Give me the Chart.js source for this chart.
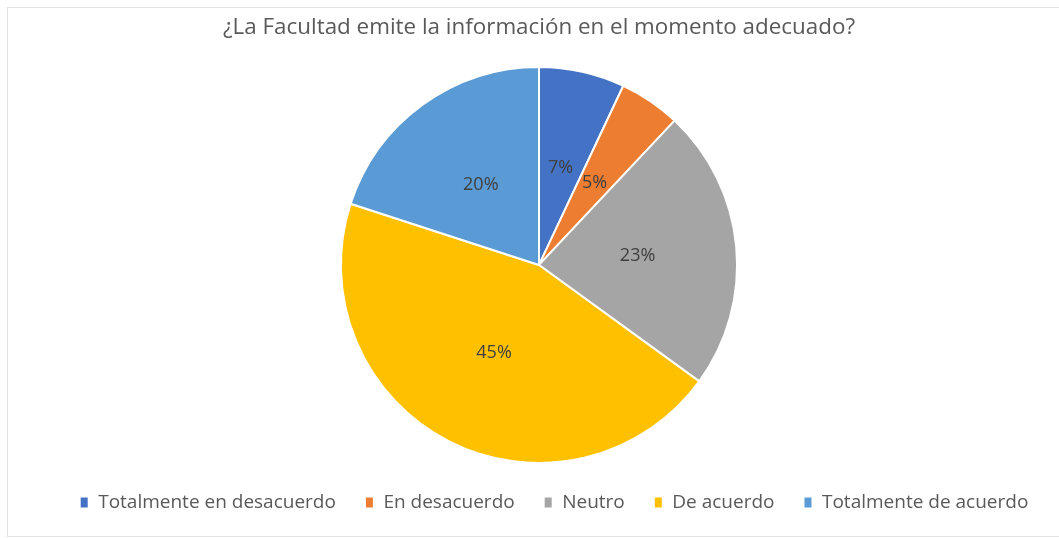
<!DOCTYPE html>
<html>
<head>
<meta charset="utf-8">
<script src="https://cdn.jsdelivr.net/npm/chart.js@4.4.0/dist/chart.umd.min.js"></script>
<style>
  html, body { margin: 0; padding: 0; background: #fff; }
  .frame {
    position: absolute; left: 7px; top: 7px; width: 1060px; height: 530px;
    border: 1px solid #e3e3e3; box-sizing: border-box;
  }
  .wrap { position: absolute; left: 0; top: 0; width: 1059px; height: 538px; }
</style>
</head>
<body>
<div class="frame"></div>
<div class="wrap"><canvas id="pie-chart"></canvas></div>
<script>
const titleText = "¿La Facultad emite la información en el momento adecuado?";
const categories = ["Totalmente en desacuerdo", "En desacuerdo", "Neutro", "De acuerdo", "Totalmente de acuerdo"];
const percentages = [7, 5, 23, 45, 20];
const sliceColors = ["#4472C4", "#ED7D31", "#A5A5A5", "#FFC000", "#5B9BD5"];

// draws the % labels at the middle of each slice
const sliceLabels = {
  id: "sliceLabels",
  afterDatasetsDraw(chart) {
    const ctx = chart.ctx;
    const meta = chart.getDatasetMeta(0);
    ctx.save();
    ctx.font = "18px 'Open Sans'";
    ctx.fillStyle = "#404040";
    ctx.textAlign = "center";
    ctx.textBaseline = "middle";
    meta.data.forEach((arc, i) => {
      const pos = arc.tooltipPosition();
      ctx.fillText(percentages[i] + "%", pos.x, pos.y);
    });
    ctx.restore();
  },
};

// legend sits a bit right of the pie in the original
const legendShift = {
  id: "legendShift",
  afterLayout(chart) {
    chart.legend.left += 15;
    chart.legend.right += 15;
  },
};

const ctx = document.getElementById("pie-chart");
new Chart(ctx, {
  type: "pie",
  data: {
    labels: categories,
    datasets: [
      {
        data: percentages,
        backgroundColor: sliceColors,
        borderColor: "#fff",
        borderWidth: 2,
      },
    ],
  },
  options: {
    responsive: true,
    maintainAspectRatio: false,
    animation: false,
    layout: { padding: { left: 19, right: 0, top: 0, bottom: 16 } },
    plugins: {
      title: {
        display: true,
        text: titleText,
        color: "#595959",
        font: { family: "'Open Sans'", size: 22.4, weight: "normal" },
        padding: { top: 14, bottom: 25 },
      },
      legend: {
        position: "bottom",
        labels: {
          color: "#595959",
          font: { family: "'Open Sans'", size: 19 },
          boxWidth: 9,
          boxHeight: 12,
          padding: 29,
        },
      },
      tooltip: { enabled: false },
    },
  },
  plugins: [sliceLabels, legendShift],
});
</script>
</body>
</html>
